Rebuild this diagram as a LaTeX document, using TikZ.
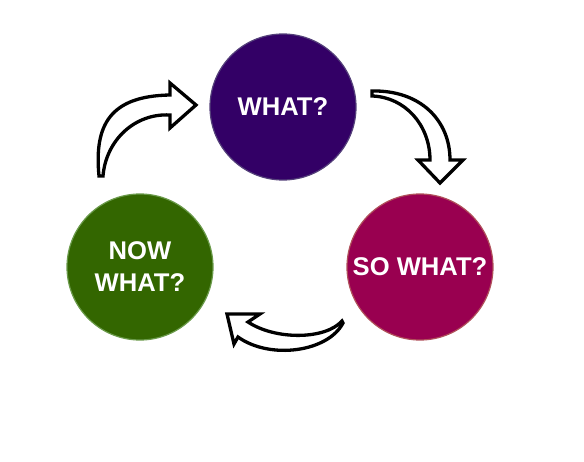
\documentclass[tikz,border=0pt]{standalone}
\usepackage{fontspec}
\setmainfont{Liberation Sans}
\definecolor{whatfill}{HTML}{330066}
\definecolor{whatline}{HTML}{54407A}
\definecolor{sofill}{HTML}{990050}
\definecolor{soline}{HTML}{B0505A}
\definecolor{nowfill}{HTML}{336600}
\definecolor{nowline}{HTML}{6A9A4A}
\begin{document}
\begin{tikzpicture}[x=1pt,y=-1pt,
  stage/.style={circle, minimum size=146pt, inner sep=0pt, line width=1.2pt,
    text=white, font=\bfseries\fontsize{25.6}{32}\selectfont, align=center},
  blockarrow/.style={draw=black, fill=white, line width=3.3pt, line join=miter, miter limit=4}]
\useasboundingbox (0,0) rectangle (584,462);
\node[stage, fill=whatfill, draw=whatline] (what) at (283,107) {WHAT?};
\node[stage, fill=sofill, draw=soline] (sowhat) at (420,267) {SO WHAT?};
\node[stage, fill=nowfill, draw=nowline] (nowwhat) at (140,267) {NOW\\WHAT?};
% upper left arrow
\draw[blockarrow] (99,176) .. controls (94,125) and (110,96) .. (170,95)
  -- (170,83) -- (196,105) -- (170,128) -- (170,115)
  .. controls (135,113) and (106,140) .. (103,176) -- cycle;
% upper right arrow
\draw[blockarrow] (372,91) .. controls (420,90) and (450,120) .. (450,160)
  -- (463,160) -- (440,183) -- (418,160) -- (430,160)
  .. controls (430,125) and (405,97) .. (372,96) -- cycle;
% bottom arrow
\draw[blockarrow] (342,321) .. controls (325,340) and (275,340) .. (248,322)
  -- (260,314) -- (227,314) -- (234,344) -- (238,337)
  .. controls (270,360) and (328,352) .. (343,323) -- cycle;
\end{tikzpicture}
\end{document}
